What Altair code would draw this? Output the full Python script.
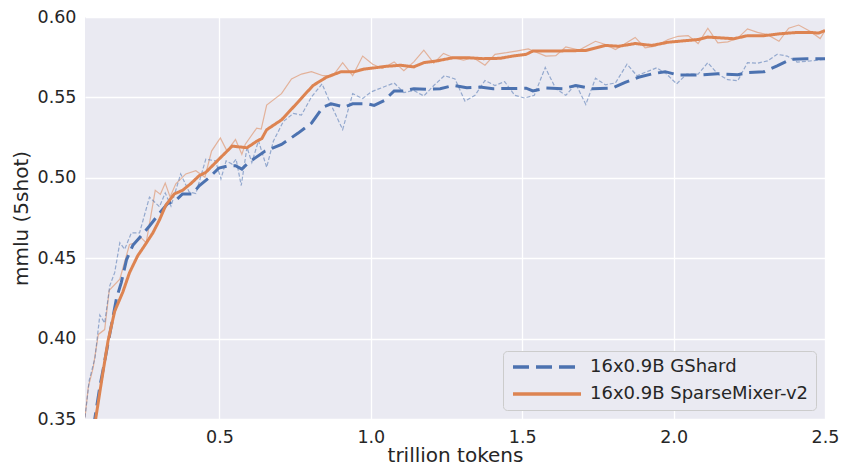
import altair as alt
import pandas as pd

# ---- data ----
gs_raw_x = [0.056, 0.070, 0.089, 0.105, 0.121, 0.138, 0.154, 0.171, 0.187, 0.209, 0.236, 0.269, 0.302, 0.321,
            0.340, 0.372, 0.400, 0.422, 0.455, 0.487, 0.505, 0.522, 0.542, 0.555, 0.572, 0.591, 0.607, 0.629,
            0.656, 0.678, 0.711, 0.744, 0.771, 0.804, 0.839, 0.869, 0.907, 0.940, 0.973, 1.0, 1.022, 1.077,
            1.109, 1.142, 1.175, 1.208, 1.243, 1.278, 1.311, 1.344, 1.377, 1.41, 1.442, 1.475, 1.508, 1.54,
            1.576, 1.611, 1.644, 1.677, 1.710, 1.742, 1.775, 1.808, 1.846, 1.879, 1.912, 1.944, 1.977, 2.010,
            2.043, 2.081, 2.113, 2.146, 2.179, 2.212, 2.244, 2.277, 2.31, 2.342, 2.375, 2.408, 2.452, 2.5]
gs_raw_y = [0.351, 0.374, 0.388, 0.4147, 0.4097, 0.433, 0.441, 0.4596, 0.4555, 0.4657, 0.4657, 0.488, 0.482,
            0.4906, 0.4824, 0.5024, 0.4912, 0.4902, 0.5116, 0.5105, 0.4993, 0.5105, 0.5085, 0.5116, 0.4952,
            0.519, 0.5095, 0.523, 0.5065, 0.5227, 0.535, 0.540, 0.539, 0.5503, 0.5584, 0.5452, 0.530, 0.5523,
            0.5493, 0.5533, 0.555, 0.5590, 0.553, 0.5543, 0.5509, 0.5574, 0.5635, 0.5615, 0.5476, 0.5513,
            0.5605, 0.5574, 0.5598, 0.5513, 0.5496, 0.5513, 0.5686, 0.5554, 0.5513, 0.5584, 0.5456, 0.5619,
            0.5578, 0.559, 0.5706, 0.5635, 0.566, 0.5684, 0.5645, 0.5584, 0.5645, 0.5645, 0.5716, 0.5645,
            0.561, 0.5604, 0.5716, 0.5713, 0.5727, 0.5768, 0.5757, 0.572, 0.5727, 0.5737]

sm_raw_x = [0.056, 0.067, 0.083, 0.100, 0.121, 0.136, 0.171, 0.203, 0.222, 0.242, 0.258, 0.288, 0.305, 0.321,
            0.337, 0.356, 0.389, 0.422, 0.452, 0.474, 0.503, 0.525, 0.553, 0.574, 0.585, 0.623, 0.638, 0.656,
            0.705, 0.738, 0.771, 0.804, 0.842, 0.875, 0.907, 0.940, 0.973, 1.006, 1.038, 1.077, 1.109, 1.142,
            1.175, 1.208, 1.240, 1.273, 1.306, 1.339, 1.377, 1.41, 1.448, 1.48, 1.52, 1.578, 1.611, 1.644,
            1.688, 1.742, 1.775, 1.808, 1.873, 1.906, 1.939, 1.982, 2.015, 2.048, 2.081, 2.113, 2.146, 2.179,
            2.212, 2.244, 2.277, 2.31, 2.348, 2.38, 2.413, 2.452, 2.484, 2.5]
sm_raw_y = [0.351, 0.370, 0.382, 0.4026, 0.4056, 0.430, 0.437, 0.4585, 0.4596, 0.4626, 0.4596, 0.4922, 0.4897,
            0.4967, 0.4881, 0.4963, 0.5024, 0.5044, 0.5004, 0.5166, 0.5248, 0.5166, 0.5238, 0.5146, 0.5207,
            0.5309, 0.5303, 0.5452, 0.5523, 0.5615, 0.5645, 0.566, 0.5635, 0.5635, 0.5716, 0.5635, 0.5757,
            0.5706, 0.568, 0.5721, 0.5666, 0.5721, 0.5794, 0.5713, 0.5774, 0.5747, 0.5731, 0.5747, 0.570,
            0.5768, 0.5778, 0.5788, 0.5802, 0.5757, 0.576, 0.5814, 0.5794, 0.5849, 0.5829, 0.5798, 0.5873,
            0.5808, 0.5818, 0.586, 0.588, 0.5884, 0.5835, 0.593, 0.5839, 0.5845, 0.5869, 0.5926, 0.5904,
            0.589, 0.5849, 0.593, 0.595, 0.591, 0.5866, 0.5916]

gs_smooth_x = [0.075, 0.089, 0.105, 0.138, 0.160, 0.176, 0.193, 0.214, 0.242, 0.269, 0.302, 0.329, 0.356, 0.378,
               0.411, 0.433, 0.465, 0.498, 0.531, 0.553, 0.574, 0.596, 0.651, 0.705, 0.760, 0.804, 0.842, 0.869,
               0.913, 0.940, 0.989, 1.011, 1.044, 1.077, 1.109, 1.142, 1.186, 1.229, 1.273, 1.317, 1.360, 1.404,
               1.448, 1.513, 1.535, 1.579, 1.633, 1.677, 1.731, 1.797, 1.840, 1.884, 1.928, 1.972, 2.015, 2.081,
               2.146, 2.212, 2.244, 2.299, 2.342, 2.386, 2.441, 2.5]
gs_smooth_y = [0.33, 0.351, 0.370, 0.403, 0.425, 0.435, 0.449, 0.458, 0.464, 0.470, 0.478, 0.484, 0.486, 0.490,
               0.490, 0.495, 0.500, 0.506, 0.5075, 0.5075, 0.5054, 0.5095, 0.5166, 0.5207, 0.5278, 0.534, 0.544,
               0.546, 0.544, 0.546, 0.546, 0.545, 0.548, 0.554, 0.554, 0.5554, 0.555, 0.5554, 0.5574, 0.556,
               0.5564, 0.5554, 0.5555, 0.5557, 0.554, 0.5558, 0.5554, 0.5574, 0.5554, 0.5558, 0.5594, 0.5625,
               0.5646, 0.566, 0.5639, 0.5639, 0.5647, 0.5641, 0.5655, 0.566, 0.5696, 0.5737, 0.5741, 0.5741]

sm_smooth_x = [0.075, 0.092, 0.111, 0.132, 0.154, 0.181, 0.203, 0.230, 0.252, 0.280, 0.302, 0.323, 0.351, 0.378,
               0.405, 0.433, 0.455, 0.498, 0.542, 0.591, 0.623, 0.640, 0.656, 0.705, 0.760, 0.809, 0.853, 0.902,
               0.946, 0.978, 1.022, 1.044, 1.098, 1.142, 1.175, 1.218, 1.273, 1.317, 1.371, 1.426, 1.469, 1.513,
               1.535, 1.60, 1.71, 1.775, 1.819, 1.873, 1.928, 1.982, 2.081, 2.113, 2.200, 2.244, 2.299, 2.353,
               2.408, 2.452, 2.479, 2.5]
sm_smooth_y = [0.325, 0.351, 0.374, 0.3985, 0.417, 0.429, 0.441, 0.4515, 0.4576, 0.4657, 0.4738, 0.483, 0.490,
               0.4922, 0.4963, 0.5013, 0.5034, 0.5115, 0.5197, 0.5187, 0.5227, 0.5244, 0.5299, 0.536, 0.5472,
               0.5574, 0.5625, 0.566, 0.566, 0.5676, 0.5686, 0.5692, 0.570, 0.569, 0.5716, 0.5727, 0.5747,
               0.5747, 0.5741, 0.5743, 0.5757, 0.5768, 0.5788, 0.5788, 0.5792, 0.5823, 0.5818, 0.5835, 0.5823,
               0.5843, 0.586, 0.5875, 0.5865, 0.5884, 0.5884, 0.5896, 0.5904, 0.5904, 0.590, 0.5916]

series_names = ["16x0.9B GShard", "16x0.9B SparseMixer-v2"]
colors = ["#4c72b0", "#dd8452"]
x_ticks = [0.5, 1.0, 1.5, 2.0, 2.5]
y_ticks = [0.35, 0.40, 0.45, 0.50, 0.55, 0.60]

# ---- tables ----
gs_raw = pd.DataFrame({"x": gs_raw_x, "y": gs_raw_y})
sm_raw = pd.DataFrame({"x": sm_raw_x, "y": sm_raw_y})
smooth = pd.concat([
    pd.DataFrame({"x": gs_smooth_x, "y": gs_smooth_y, "series": series_names[0], "o": range(len(gs_smooth_x))}),
    pd.DataFrame({"x": sm_smooth_x, "y": sm_smooth_y, "series": series_names[1], "o": range(len(sm_smooth_x))}),
])

xs = alt.Scale(domain=[0.056, 2.5], nice=False, zero=False)
ys = alt.Scale(domain=[0.35, 0.60], nice=False, zero=False)

X = alt.X("x:Q", scale=xs, axis=alt.Axis(values=x_ticks, format=".1f", title="trillion tokens", labelFlush=False))
Y = alt.Y("y:Q", scale=ys, axis=alt.Axis(values=y_ticks, format=".2f", title="mmlu (5shot)", labelFlush=False))

raw_sm = alt.Chart(sm_raw).mark_line(color=colors[1], strokeWidth=1.2, opacity=0.55, clip=True).encode(
    x=X, y=Y, order="x:Q")
raw_gs = alt.Chart(gs_raw).mark_line(color=colors[0], strokeWidth=1.2, opacity=0.55, strokeDash=[4, 2],
                                     clip=True).encode(x=X, y=Y, order="x:Q")

leg = alt.Legend(orient="none", legendX=418, legendY=334)
smooth_layer = alt.Chart(smooth).mark_line(strokeWidth=3, clip=True).encode(
    x=X, y=Y, order="o:Q",
    color=alt.Color("series:N", scale=alt.Scale(domain=series_names, range=colors), title=None, legend=leg),
    strokeDash=alt.StrokeDash("series:N", scale=alt.Scale(domain=series_names, range=[[16, 7], [1, 0]]),
                              title=None, legend=leg),
)

chart = alt.layer(raw_sm, raw_gs, smooth_layer).properties(
    width=740, height=402,
    autosize=alt.AutoSizeParams(type="none"),
    padding={"left": 77, "top": 9, "right": 14, "bottom": 49},
).configure_view(
    fill="#eaeaf2", stroke=None
).configure_axis(
    grid=True, gridColor="white", gridWidth=1.3, domain=False, ticks=False,
    labelFont="DejaVu Sans", labelFontSize=17.5, labelColor="#262626",
    titleFont="DejaVu Sans", titleFontSize=20, titleFontWeight="normal", titleColor="#262626",
).configure_axisX(
    labelPadding=9, titlePadding=0
).configure_axisY(
    labelPadding=9, titlePadding=6
).configure_legend(
    fillColor="#eaeaf2", strokeColor="#cccccc", cornerRadius=4, padding=7,
    labelFont="DejaVu Sans", labelFontSize=18, labelColor="#262626",
    symbolType="M-6.8,0H6.8", symbolSize=100, symbolStrokeWidth=3.5, symbolOffset=28,
    labelOffset=34, rowPadding=9, labelLimit=400,
)

chart.save("out.html", embed_options={"renderer": "svg", "actions": False})
